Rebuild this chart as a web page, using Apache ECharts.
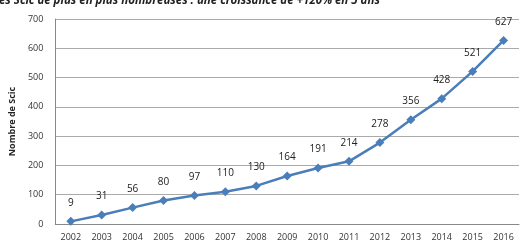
<!DOCTYPE html>
<html>
<head>
<meta charset="utf-8">
<script src="https://cdn.jsdelivr.net/npm/echarts@6/dist/echarts.min.js"></script>
<style>
  html, body { margin: 0; padding: 0; background: #fff; }
  #chart { width: 525px; height: 251px; }
</style>
</head>
<body>
<div id="chart"></div>
<script>
  // données
  const years = ['2002', '2003', '2004', '2005', '2006', '2007', '2008', '2009',
    '2010', '2011', '2012', '2013', '2014', '2015', '2016']
  const scicCount = [9, 31, 56, 80, 97, 110, 130, 164, 191, 214, 278, 356, 428, 521, 627]
  const titleText = 'Les Scic de plus en plus nombreuses : une croissance de +120% en 5 ans'
  const yName = 'Nombre de Scic'

  const chart = echarts.init(document.getElementById('chart'))
  const font = 'Open Sans, Liberation Sans, sans-serif'

  chart.setOption({
    animation: false,
    textStyle: { fontFamily: font },
    title: {
      text: titleText,
      left: -12,
      top: -10,
      textStyle: { fontSize: 11.5, fontWeight: 'bold', fontStyle: 'italic', color: '#222', fontFamily: font }
    },
    grid: { left: 52, right: 6, top: 19, bottom: 27, containLabel: false },
    xAxis: {
      type: 'category',
      data: years,
      boundaryGap: true,
      axisLine: { lineStyle: { color: '#888' } },
      axisTick: { show: false },
      axisLabel: { color: '#333', fontSize: 9, margin: 9 }
    },
    yAxis: {
      type: 'value',
      min: 0,
      max: 700,
      interval: 100,
      name: yName,
      nameLocation: 'middle',
      nameGap: 30,
      nameTextStyle: { fontSize: 9, fontWeight: 'bold', color: '#222' },
      axisLine: { show: true, lineStyle: { color: '#888' } },
      axisTick: { show: false },
      axisLabel: { color: '#333', fontSize: 9, margin: 12 },
      splitLine: { lineStyle: { color: '#aaa' } }
    },
    series: [{
      type: 'line',
      data: scicCount,
      symbol: 'diamond',
      symbolSize: 9,
      lineStyle: { color: '#4a7ebb', width: 2.5 },
      itemStyle: { color: '#4a7ebb' },
      label: { show: true, position: 'top', distance: 9, color: '#222', fontSize: 10 }
    }]
  })
</script>
</body>
</html>
